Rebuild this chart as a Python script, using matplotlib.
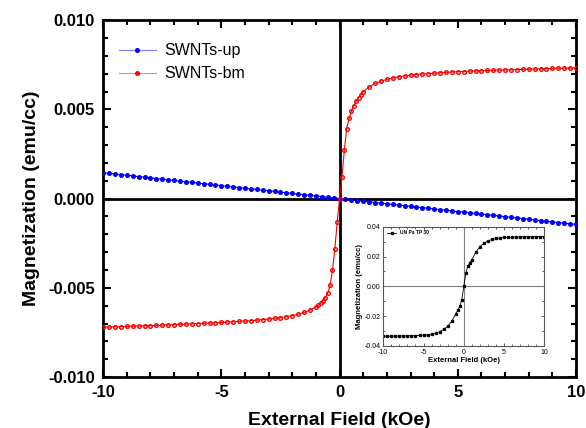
import matplotlib
matplotlib.use("Agg")
import matplotlib.pyplot as plt
from matplotlib.ticker import MultipleLocator, FormatStrFormatter

plt.rcParams["font.family"] = ["Liberation Sans", "DejaVu Sans"]
plt.rcParams["font.weight"] = "bold"
plt.rcParams["axes.unicode_minus"] = False

# ---- data ----
field_up = [-10, -9.75, -9.5, -9.25, -9, -8.75, -8.5, -8.25, -8, -7.75, -7.5, -7.25,
            -7, -6.75, -6.5, -6.25, -6, -5.75, -5.5, -5.25, -5, -4.75, -4.5, -4.25,
            -4, -3.75, -3.5, -3.25, -3, -2.75, -2.5, -2.25, -2, -1.75, -1.5, -1.25,
            -1, -0.75, -0.5, -0.25, 0, 0.25, 0.5, 0.75, 1, 1.25, 1.5, 1.75, 2, 2.25,
            2.5, 2.75, 3, 3.25, 3.5, 3.75, 4, 4.25, 4.5, 4.75, 5, 5.25, 5.5, 5.75, 6,
            6.25, 6.5, 6.75, 7, 7.25, 7.5, 7.75, 8, 8.25, 8.5, 8.75, 9, 9.25, 9.5,
            9.75, 10]
swnt_up = [0.00145, 0.00141, 0.00138, 0.00134, 0.00131, 0.00127, 0.00123, 0.00120,
           0.00116, 0.00112, 0.00109, 0.00105, 0.00102, 0.00098, 0.00094, 0.00091,
           0.00087, 0.00083, 0.00080, 0.00076, 0.00073, 0.00069, 0.00065, 0.00062,
           0.00058, 0.00054, 0.00051, 0.00047, 0.00044, 0.00040, 0.00036, 0.00033,
           0.00029, 0.00025, 0.00022, 0.00018, 0.00015, 0.00011, 0.00007, 0.00004,
           0.00000, -0.00004, -0.00007, -0.00011, -0.00015, -0.00018, -0.00022,
           -0.00025, -0.00029, -0.00033, -0.00036, -0.00040, -0.00044, -0.00047,
           -0.00051, -0.00054, -0.00058, -0.00062, -0.00065, -0.00069, -0.00073,
           -0.00076, -0.00080, -0.00083, -0.00087, -0.00091, -0.00094, -0.00098,
           -0.00102, -0.00105, -0.00109, -0.00112, -0.00116, -0.00120, -0.00123,
           -0.00127, -0.00131, -0.00134, -0.00138, -0.00141, -0.00145]

field_bm = [-10, -9.75, -9.5, -9.25, -9, -8.75, -8.5, -8.25, -8, -7.75, -7.5, -7.25,
            -7, -6.75, -6.5, -6.25, -6, -5.75, -5.5, -5.25, -5, -4.75, -4.5, -4.25,
            -4, -3.75, -3.5, -3.25, -3, -2.75, -2.5, -2.25, -2, -1.75, -1.5, -1.25,
            -1, -0.9, -0.8, -0.7, -0.6, -0.5, -0.4, -0.3, -0.2, -0.1, 0, 0.1, 0.2,
            0.3, 0.4, 0.5, 0.6, 0.7, 0.8, 0.9, 1, 1.25, 1.5, 1.75, 2, 2.25, 2.5, 2.75,
            3, 3.25, 3.5, 3.75, 4, 4.25, 4.5, 4.75, 5, 5.25, 5.5, 5.75, 6, 6.25, 6.5,
            6.75, 7, 7.25, 7.5, 7.75, 8, 8.25, 8.5, 8.75, 9, 9.25, 9.5, 9.75, 10]
swnt_bm = [-0.00720, -0.00719, -0.00718, -0.00717, -0.00716, -0.00715, -0.00714,
           -0.00713, -0.00712, -0.00711, -0.00709, -0.00708, -0.00706, -0.00705,
           -0.00703, -0.00702, -0.00700, -0.00699, -0.00697, -0.00696, -0.00694,
           -0.00692, -0.00690, -0.00688, -0.00686, -0.00684, -0.00681, -0.00678,
           -0.00675, -0.00671, -0.00667, -0.00662, -0.00656, -0.00648, -0.00638,
           -0.00625, -0.00607, -0.00598, -0.00587, -0.00573, -0.00555, -0.00530,
           -0.00485, -0.00400, -0.00280, -0.00130, 0.00000, 0.00120, 0.00270,
           0.00390, 0.00450, 0.00490, 0.00520, 0.00545, 0.00565, 0.00582, 0.00598,
           0.00625, 0.00645, 0.00658, 0.00668, 0.00676, 0.00682, 0.00687, 0.00692,
           0.00695, 0.00698, 0.00700, 0.00703, 0.00705, 0.00707, 0.00709, 0.00711,
           0.00712, 0.00714, 0.00715, 0.00717, 0.00718, 0.00719, 0.00720, 0.00721,
           0.00722, 0.00723, 0.00724, 0.00725, 0.00726, 0.00727, 0.00728, 0.00729,
           0.00730, 0.00731, 0.00731, 0.00732]

field_inset = [-10, -9.5, -9, -8.5, -8, -7.5, -7, -6.5, -6, -5.5, -5, -4.5, -4, -3.5,
               -3, -2.5, -2, -1.5, -1, -0.75, -0.5, -0.25, 0, 0.25, 0.5, 0.75, 1,
               1.5, 2, 2.5, 3, 3.5, 4, 4.5, 5, 5.5, 6, 6.5, 7, 7.5, 8, 8.5, 9, 9.5, 10]
mag_inset = [-0.0335, -0.0335, -0.0335, -0.0334, -0.0334, -0.0333, -0.0333, -0.0332,
             -0.0331, -0.0330, -0.0329, -0.0326, -0.0322, -0.0316, -0.0305, -0.0290,
             -0.0268, -0.0235, -0.0185, -0.0160, -0.0135, -0.0090, 0.0000, 0.0090,
             0.0135, 0.0160, 0.0180, 0.0230, 0.0267, 0.0290, 0.0305, 0.0315, 0.0322,
             0.0326, 0.0329, 0.0330, 0.0331, 0.0332, 0.0332, 0.0333, 0.0333, 0.0333,
             0.0334, 0.0334, 0.0334]

fig = plt.figure(figsize=(5.86, 4.28), dpi=100)
ax = fig.add_axes([0.176, 0.119, 0.807, 0.834])

ax.axhline(0, color="black", lw=2, zorder=1)
ax.axvline(0, color="black", lw=2, zorder=1)
ax.plot(field_up, swnt_up, color="blue", lw=0.8, marker="o", ms=2.6, mfc="blue",
        mec="blue", label="SWNTs-up", zorder=3)
ax.plot(field_bm, swnt_bm, color="red", lw=0.8, marker="o", ms=2.6, mfc="none",
        mec="red", mew=1.0, label="SWNTs-bm", zorder=3)

ax.set_xlim(-10, 10)
ax.set_ylim(-0.010, 0.010)
ax.xaxis.set_major_locator(MultipleLocator(5))
ax.xaxis.set_minor_locator(MultipleLocator(1))
ax.yaxis.set_major_locator(MultipleLocator(0.005))
ax.yaxis.set_minor_locator(MultipleLocator(0.001))
ax.yaxis.set_major_formatter(FormatStrFormatter("%.3f"))
ax.tick_params(which="both", direction="in", top=True, right=True, width=1.5)
ax.tick_params(which="major", length=6, labelsize=12, pad=6)
ax.tick_params(which="minor", length=3.5)
for sp in ax.spines.values():
    sp.set_linewidth(2)
ax.set_xlabel("External Field (kOe)", fontsize=14, fontweight="bold", labelpad=8)
ax.set_ylabel("Magnetization (emu/cc)", fontsize=14, fontweight="bold", labelpad=6)
leg = ax.legend(loc="upper left", bbox_to_anchor=(0.0, 0.98), frameon=False,
                fontsize=11.5, handlelength=2.3, handletextpad=0.5,
                borderaxespad=0.6)
for t in leg.get_texts():
    t.set_fontweight("normal")
for h, c in zip(leg.legend_handles, ["#7a7aff", "#ff7a7a"]):
    h.set_linewidth(0.8)
    h.set_color(c)
    h.set_markerfacecolor(["blue", "red"][c == "#ff7a7a"])
    h.set_markeredgecolor(["blue", "red"][c == "#ff7a7a"])

# inset
ins = fig.add_axes([0.654, 0.192, 0.275, 0.278])
ins.axhline(0, color="gray", lw=0.8)
ins.axvline(0, color="gray", lw=0.8)
ins.plot(field_inset, mag_inset, color="black", lw=0.6, marker="s", ms=1.4,
         label="UN Pa TP 30")
ins.set_xlim(-10, 10)
ins.set_ylim(-0.04, 0.04)
ins.xaxis.set_major_locator(MultipleLocator(5))
ins.xaxis.set_minor_locator(MultipleLocator(1))
ins.yaxis.set_major_locator(MultipleLocator(0.02))
ins.yaxis.set_minor_locator(MultipleLocator(0.01))
ins.yaxis.set_major_formatter(FormatStrFormatter("%.2f"))
ins.tick_params(which="both", direction="in", top=True, right=True, width=0.6,
                color="#444444")
ins.tick_params(which="major", length=2.5, labelsize=5, pad=2)
ins.tick_params(which="minor", length=1.5)
for t in ins.get_xticklabels() + ins.get_yticklabels():
    t.set_fontweight("normal")
for sp in ins.spines.values():
    sp.set_linewidth(0.8)
    sp.set_color("#555555")
ins.set_xlabel("External Field (kOe)", fontsize=5.5, fontweight="bold", labelpad=1)
ins.set_ylabel("Magnetization (emu/cc)", fontsize=5.5, fontweight="bold", labelpad=1)
il = ins.legend(loc="upper left", frameon=False, fontsize=3.5, handlelength=2,
                borderaxespad=0.3)

fig.savefig("out.png", dpi=100)
